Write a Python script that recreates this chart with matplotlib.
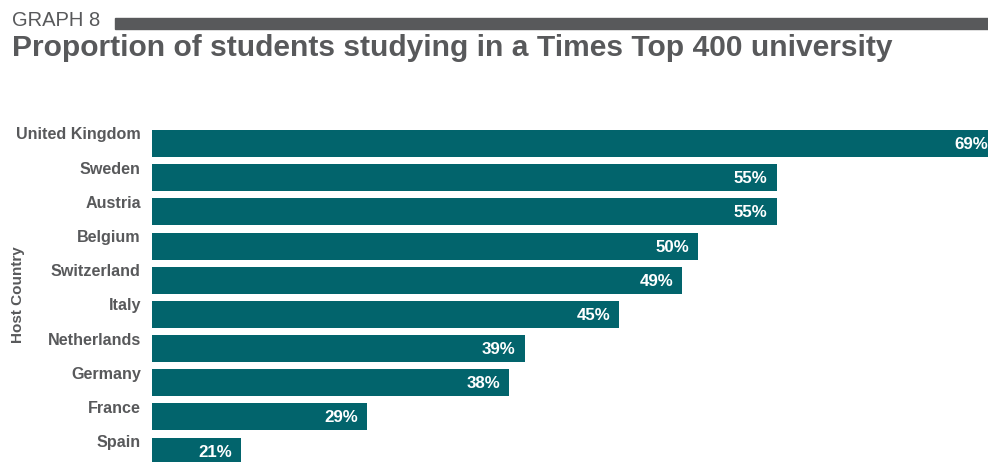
import matplotlib
matplotlib.use("Agg")
import matplotlib.pyplot as plt
import matplotlib.transforms as mtransforms

# データ
countries = ["United Kingdom", "Sweden", "Austria", "Belgium", "Switzerland",
             "Italy", "Netherlands", "Germany", "France", "Spain"]
shares = [69, 55, 55, 50, 49, 45, 39, 38, 29, 21]
value_labels = ["69%", "55%", "55%", "50%", "49%", "45%", "39%", "38%", "29%", "21%"]

W, H = 988, 462
BAR = "#02646c"
GREY = "#58595b"
plt.rcParams["font.family"] = ["Liberation Sans", "DejaVu Sans"]

fig = plt.figure(figsize=(W / 100, H / 100), dpi=100)

# ヘッダー
fig.text(12 / W, 1 - 21 / H, "GRAPH 8", fontsize=14.5, color=GREY, va="center", ha="left")
fig.patches.append(plt.Rectangle((115 / W, 1 - 29 / H), (W - 115) / W, 11 / H,
                                 transform=fig.transFigure, color=GREY, zorder=3))
fig.text(12 / W, 1 - 48 / H, "Proportion of students studying in a Times Top 400 university",
         fontsize=21.6, fontweight="bold", color=GREY, va="center", ha="left")

# 棒グラフ
ax = fig.add_axes([152 / W, 0, (W - 152) / W, (H - 126.4) / H])
pos = list(range(len(countries)))
ax.barh(pos, shares, height=0.79, left=0, color=BAR, zorder=2)
ax.set_xlim(15.34, 68.42)
ax.set_ylim(9.32, -0.5)

ax.set_yticks(pos, countries)
ax.tick_params(axis="y", length=0, pad=8, labelsize=11.6, labelcolor=GREY)
for lab in ax.get_yticklabels():
    lab.set_fontweight("bold")
    lab.set_transform(lab.get_transform() + mtransforms.ScaledTranslation(0, 10 / 100, fig.dpi_scale_trans))
ax.set_xticks([])
for s in ax.spines.values():
    s.set_visible(False)

off = mtransforms.ScaledTranslation(-9 / 100, -1 / 100, fig.dpi_scale_trans)
for p, v, t in zip(pos, shares, value_labels):
    ax.text(v, p, t, transform=ax.transData + off, ha="right", va="center",
            color="white", fontsize=12.2, fontweight="bold", zorder=3)

fig.text(18 / W, 1 - 295 / H, "Host Country", rotation=90, fontsize=11, fontweight="bold",
         color=GREY, ha="center", va="center")

fig.savefig("out.png", dpi=100)
